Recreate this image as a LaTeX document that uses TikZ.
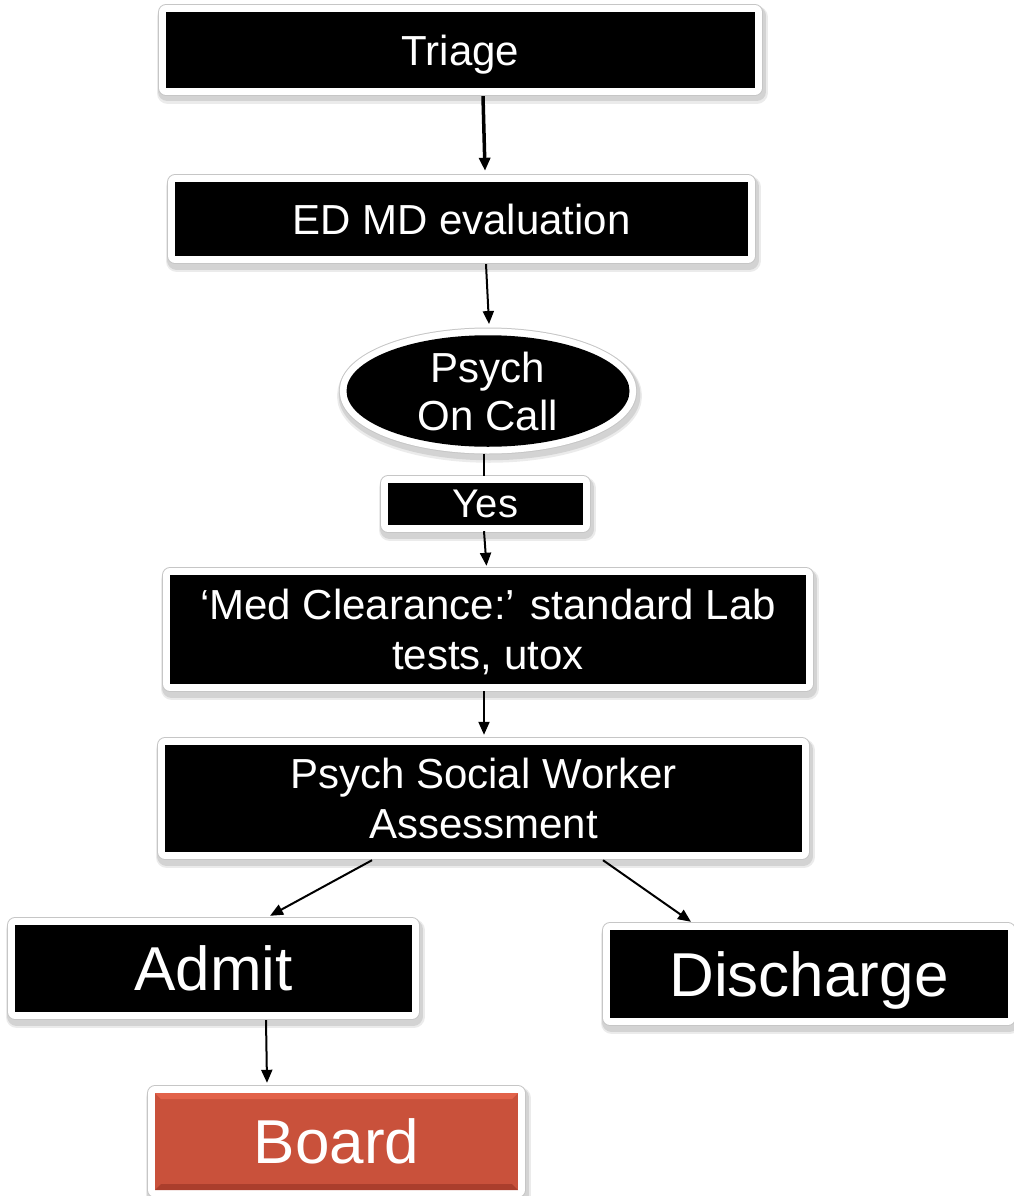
\documentclass[tikz,border=0pt]{standalone}
\usepackage{fontspec}
\setmainfont{Liberation Sans}
\usetikzlibrary{shapes.geometric,arrows.meta}
\definecolor{boardred}{RGB}{201,81,59}
\definecolor{boardlight}{RGB}{226,98,74}
\definecolor{boarddark}{RGB}{170,62,44}
\tikzset{
  frame/.style={
    preaction={draw=black, draw opacity=.10, line width=19pt, line join=round, transform canvas={xshift=1.5pt,yshift=-4pt}},
    preaction={draw=black, draw opacity=.08, line width=22pt, line join=round, transform canvas={xshift=1.5pt,yshift=-5pt}},
    preaction={draw=gray!45, line width=15.5pt, line join=round},
    preaction={draw=white, line width=13.5pt, line join=round}},
  blackbox/.style={frame, rectangle, fill=black, text=white, inner sep=0pt, align=center, text depth=0pt},
  oval/.style={frame, ellipse, fill=black, text=white, inner sep=0pt, align=center},
  redbox/.style={frame, rectangle, fill=boardred, text=white, inner sep=0pt, align=center, text depth=0pt},
  smalltext/.style={font=\fontsize{42}{50}\selectfont},
  bigtext/.style={font=\fontsize{62}{70}\selectfont},
  arr/.style={line width=2pt, -{Triangle[length=13pt,width=11pt]}},
  plain/.style={line width=2pt}
}
\begin{document}
\begin{tikzpicture}[x=1pt,y=-1pt]
\useasboundingbox (0,0) rectangle (1013,1196);
\node[blackbox, smalltext, minimum width=589, minimum height=76] (triage) at (460.5,50) {Triage};
\node[blackbox, smalltext, minimum width=573, minimum height=74] (ed) at (461.5,219) {ED MD evaluation};
\node[oval, font=\fontsize{42}{48}\selectfont, minimum width=283, minimum height=108] (psych) at (488,391) {Psych\\On Call};
\node[blackbox, font=\fontsize{40}{48}\selectfont, minimum width=195, minimum height=42] (yes) at (485.5,504) {Yes};
\node[blackbox, smalltext, minimum width=636, minimum height=109] (med) at (488,629.5) {‘Med Clearance:’ standard Lab\\tests, utox};
\node[blackbox, smalltext, minimum width=637, minimum height=107] (sw) at (483.5,798.5) {Psych Social Worker\\Assessment};
\node[blackbox, bigtext, minimum width=397, minimum height=87] (admit) at (213.5,968.5) {Admit};
\node[blackbox, bigtext, minimum width=398, minimum height=88] (discharge) at (809,974) {Discharge};
\node[redbox, bigtext, minimum width=363, minimum height=97,
  path picture={
    \fill[boardlight] (path picture bounding box.north west) -- (path picture bounding box.north east) -- ([shift={(-6,6)}]path picture bounding box.north east) -- ([shift={(6,6)}]path picture bounding box.north west) -- cycle;
    \fill[boarddark] (path picture bounding box.south west) -- (path picture bounding box.south east) -- ([shift={(-6,-6)}]path picture bounding box.south east) -- ([shift={(6,-6)}]path picture bounding box.south west) -- cycle;
  }] (board) at (336.5,1141.5) {Board};
\draw[arr, line width=3.5pt] ([shift={(22.5,8)}]triage.south) -- ([shift={(23.5,-11)}]ed.north);
\draw[arr] ([shift={(24.5,8)}]ed.south) -- ([shift={(1,-11)}]psych.north);
\draw[plain] ([shift={(-4,7)}]psych.south) -- ([shift={(-1.5,-7)}]yes.north);
\draw[arr] ([shift={(-1.5,6)}]yes.south) -- ([shift={(-1.5,-9)}]med.north);
\draw[arr] ([shift={(-4,7)}]med.south) -- ([shift={(0.5,-10)}]sw.north);
\draw[arr] ([shift={(-111.5,8)}]sw.south) -- ([shift={(56.5,-9)}]admit.north);
\draw[arr] ([shift={(119.5,8)}]sw.south) -- ([shift={(-118,-8)}]discharge.north);
\draw[arr] ([shift={(52.5,8)}]admit.south) -- ([shift={(-69.5,-10)}]board.north);
\end{tikzpicture}
\end{document}
